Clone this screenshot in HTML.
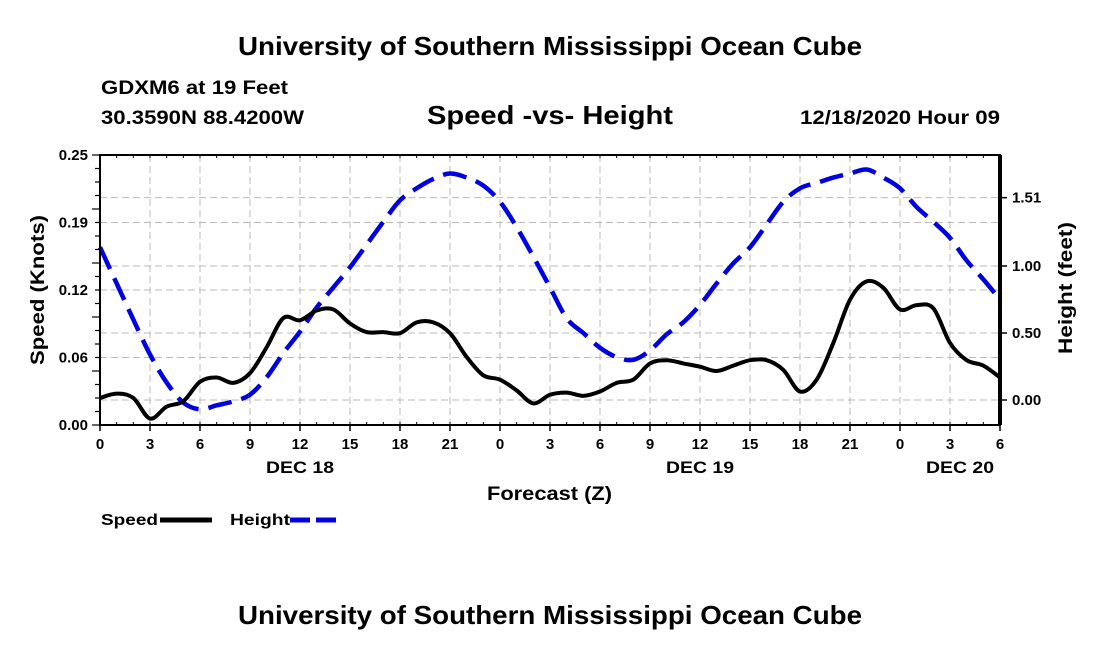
<!DOCTYPE html>
<html><head><meta charset="utf-8"><style>
body{margin:0;background:#fff;width:1100px;height:650px;overflow:hidden}
svg{font-family:"Liberation Sans",sans-serif;font-weight:bold}
</style></head><body>
<svg id="chart" width="1100" height="650" xmlns="http://www.w3.org/2000/svg">
<text x="238" y="55" font-size="26" textLength="624" lengthAdjust="spacingAndGlyphs">University of Southern Mississippi Ocean Cube</text>
<text x="101" y="94" font-size="19" textLength="187" lengthAdjust="spacingAndGlyphs">GDXM6 at 19 Feet</text>
<text x="101" y="124" font-size="19" textLength="203" lengthAdjust="spacingAndGlyphs">30.3590N 88.4200W</text>
<text x="427" y="124" font-size="26" textLength="246" lengthAdjust="spacingAndGlyphs">Speed -vs- Height</text>
<text x="800" y="124" font-size="19" textLength="200" lengthAdjust="spacingAndGlyphs">12/18/2020 Hour 09</text>
<g id="grid"></g>
<g id="series"></g>
<g id="axes"></g>
<text transform="translate(44,365) rotate(-90)" font-size="19" textLength="150" lengthAdjust="spacingAndGlyphs">Speed (Knots)</text>
<text transform="translate(1072,354) rotate(-90)" font-size="19" textLength="132" lengthAdjust="spacingAndGlyphs">Height (feet)</text>
<text x="487" y="500" font-size="19" textLength="125" lengthAdjust="spacingAndGlyphs">Forecast (Z)</text>
<g>
<text x="101" y="525" font-size="16" textLength="57" lengthAdjust="spacingAndGlyphs">Speed</text>
<line x1="160" y1="520" x2="212" y2="520" stroke="#000" stroke-width="5"/>
<text x="230" y="525" font-size="16" textLength="60" lengthAdjust="spacingAndGlyphs">Height</text>
<line x1="290" y1="520" x2="342" y2="520" stroke="#0000e0" stroke-width="5" stroke-dasharray="20 6"/>
</g>
<text x="238" y="624" font-size="26" textLength="624" lengthAdjust="spacingAndGlyphs">University of Southern Mississippi Ocean Cube</text>
</svg>
<script>
const hours=[0,1,2,3,4,5,6,7,8,9,10,11,12,13,14,15,16,17,18,19,20,21,22,23,24,25,26,27,28,29,30,31,32,33,34,35,36,37,38,39,40,41,42,43,44,45,46,47,48,49,50,51,52,53,54];
const speed=[0.025,0.029,0.025,0.006,0.017,0.022,0.040,0.044,0.039,0.048,0.072,0.099,0.097,0.106,0.107,0.094,0.086,0.086,0.085,0.095,0.095,0.085,0.063,0.046,0.042,0.032,0.020,0.028,0.030,0.027,0.031,0.039,0.042,0.057,0.060,0.057,0.054,0.050,0.055,0.060,0.060,0.051,0.031,0.042,0.076,0.116,0.133,0.127,0.107,0.111,0.108,0.076,0.060,0.055,0.044];
const height=[1.14,0.87,0.60,0.34,0.13,-0.02,-0.07,-0.04,-0.01,0.04,0.17,0.35,0.51,0.69,0.84,0.99,1.16,1.33,1.49,1.58,1.65,1.69,1.66,1.60,1.48,1.29,1.07,0.84,0.61,0.50,0.39,0.32,0.30,0.37,0.49,0.58,0.71,0.87,1.02,1.14,1.31,1.48,1.58,1.62,1.66,1.69,1.72,1.66,1.58,1.44,1.33,1.21,1.04,0.90,0.75];
const xTickLabels=["0","3","6","9","12","15","18","21","0","3","6","9","12","15","18","21","0","3","6"];
const dayLabels=["DEC 18","DEC 19","DEC 20"];
const dayHours=[12,36,51.6];
const leftTicks=[0,0.0625,0.125,0.1875,0.25];
const leftTickLabels=["0.00","0.06","0.12","0.19","0.25"];
const rightTicks=[0,0.5,1.0,1.51];
const rightTickLabels=["0.00","0.50","1.00","1.51"];
const L=100,R=1000,T=155,B=425;
const x=h=>L+(R-L)*h/54;
const yL=v=>B-(B-T)*v/0.25;
const yR=v=>400-134*v;
const NS="http://www.w3.org/2000/svg";
function mk(tag,attrs,parent,text){const e=document.createElementNS(NS,tag);for(const k in attrs)e.setAttribute(k,attrs[k]);if(text!==undefined)e.textContent=text;document.getElementById(parent).appendChild(e);return e;}
xTickLabels.forEach((t,i)=>{const xx=x(i*3);
 const g=mk('line',{x1:xx,x2:xx,y1:T,y2:B,stroke:'#bbb','stroke-width':1,'stroke-dasharray':'7 4'},'grid');
 
 
 const tk=mk('line',{x1:xx,x2:xx,y1:B,y2:B+6,stroke:'#000','stroke-width':1.5},'axes');
 
 
 const lb=mk('text',{x:xx,y:B+24,'text-anchor':'middle','font-size':15},'axes',t);
 
 
});
dayLabels.forEach((t,i)=>{const lb=mk('text',{x:x(dayHours[i]),y:473,'text-anchor':'middle','font-size':17,textLength:68,lengthAdjust:'spacingAndGlyphs'},'axes',t);
 
 });
leftTicks.forEach((v,i)=>{const yy=yL(v);
 if(i>0&&i<4){const g=mk('line',{x1:L,x2:R,y1:yy,y2:yy,stroke:'#bbb','stroke-width':1,'stroke-dasharray':'7 4'},'grid');
 
 }
 const lb=mk('text',{x:L-12,y:yy+5,'text-anchor':'end','font-size':15},'axes',leftTickLabels[i]);
 
 
});
rightTicks.forEach((v,i)=>{const yy=yR(v);
 const g=mk('line',{x1:L,x2:R,y1:yy,y2:yy,stroke:'#bbb','stroke-width':1,'stroke-dasharray':'7 4'},'grid');
 
 
 const tk=mk('line',{x1:R,x2:R+7,y1:yy,y2:yy,stroke:'#000','stroke-width':1.5},'axes');
 
 
 const lb=mk('text',{x:R+12,y:yy+5,'font-size':15},'axes',rightTickLabels[i]);
 
 
});
for(let k=0;k<=20;k++){const yy=B-(B-T)*k/20;
 const tk=mk('line',{x1:L-(k%4==0?8:5),x2:L,y1:yy,y2:yy,stroke:'#000','stroke-width':1.2},'axes');
 
 }
for(let h=0;h<=54;h++){const tk=mk('line',{x1:x(h),x2:x(h),y1:T,y2:T+3,stroke:'#000','stroke-width':1},'axes');
 
 
 const tb=mk('line',{x1:x(h),x2:x(h),y1:B-3,y2:B,stroke:'#000','stroke-width':1},'axes');
 
 }
const frame=mk('rect',{x:L,y:T,width:R-L,height:B-T,fill:'none',stroke:'#000','stroke-width':2},'axes');


const rax=mk('line',{x1:R,x2:R,y1:T,y2:B,stroke:'#000','stroke-width':4},'axes');


function smooth(pts){let d='M'+pts[0][0]+','+pts[0][1];
 for(let i=0;i<pts.length-1;i++){const p0=pts[Math.max(0,i-1)],p1=pts[i],p2=pts[i+1],p3=pts[Math.min(pts.length-1,i+2)];
 const c1=[p1[0]+(p2[0]-p0[0])/6,p1[1]+(p2[1]-p0[1])/6],c2=[p2[0]-(p3[0]-p1[0])/6,p2[1]-(p3[1]-p1[1])/6];
 d+=' C'+c1.join(',')+' '+c2.join(',')+' '+p2.join(',');}
 return d;}
const hp=mk('path',{d:smooth(hours.map((h,i)=>[x(h),yR(height[i])])),fill:'none',stroke:'#0000e0','stroke-width':4.5,'stroke-dasharray':'24 10'},'series');


const sp=mk('path',{d:smooth(hours.map((h,i)=>[x(h),yL(speed[i])])),fill:'none',stroke:'#000','stroke-width':4,'stroke-linejoin':'round'},'series');


</script>
</body></html>
